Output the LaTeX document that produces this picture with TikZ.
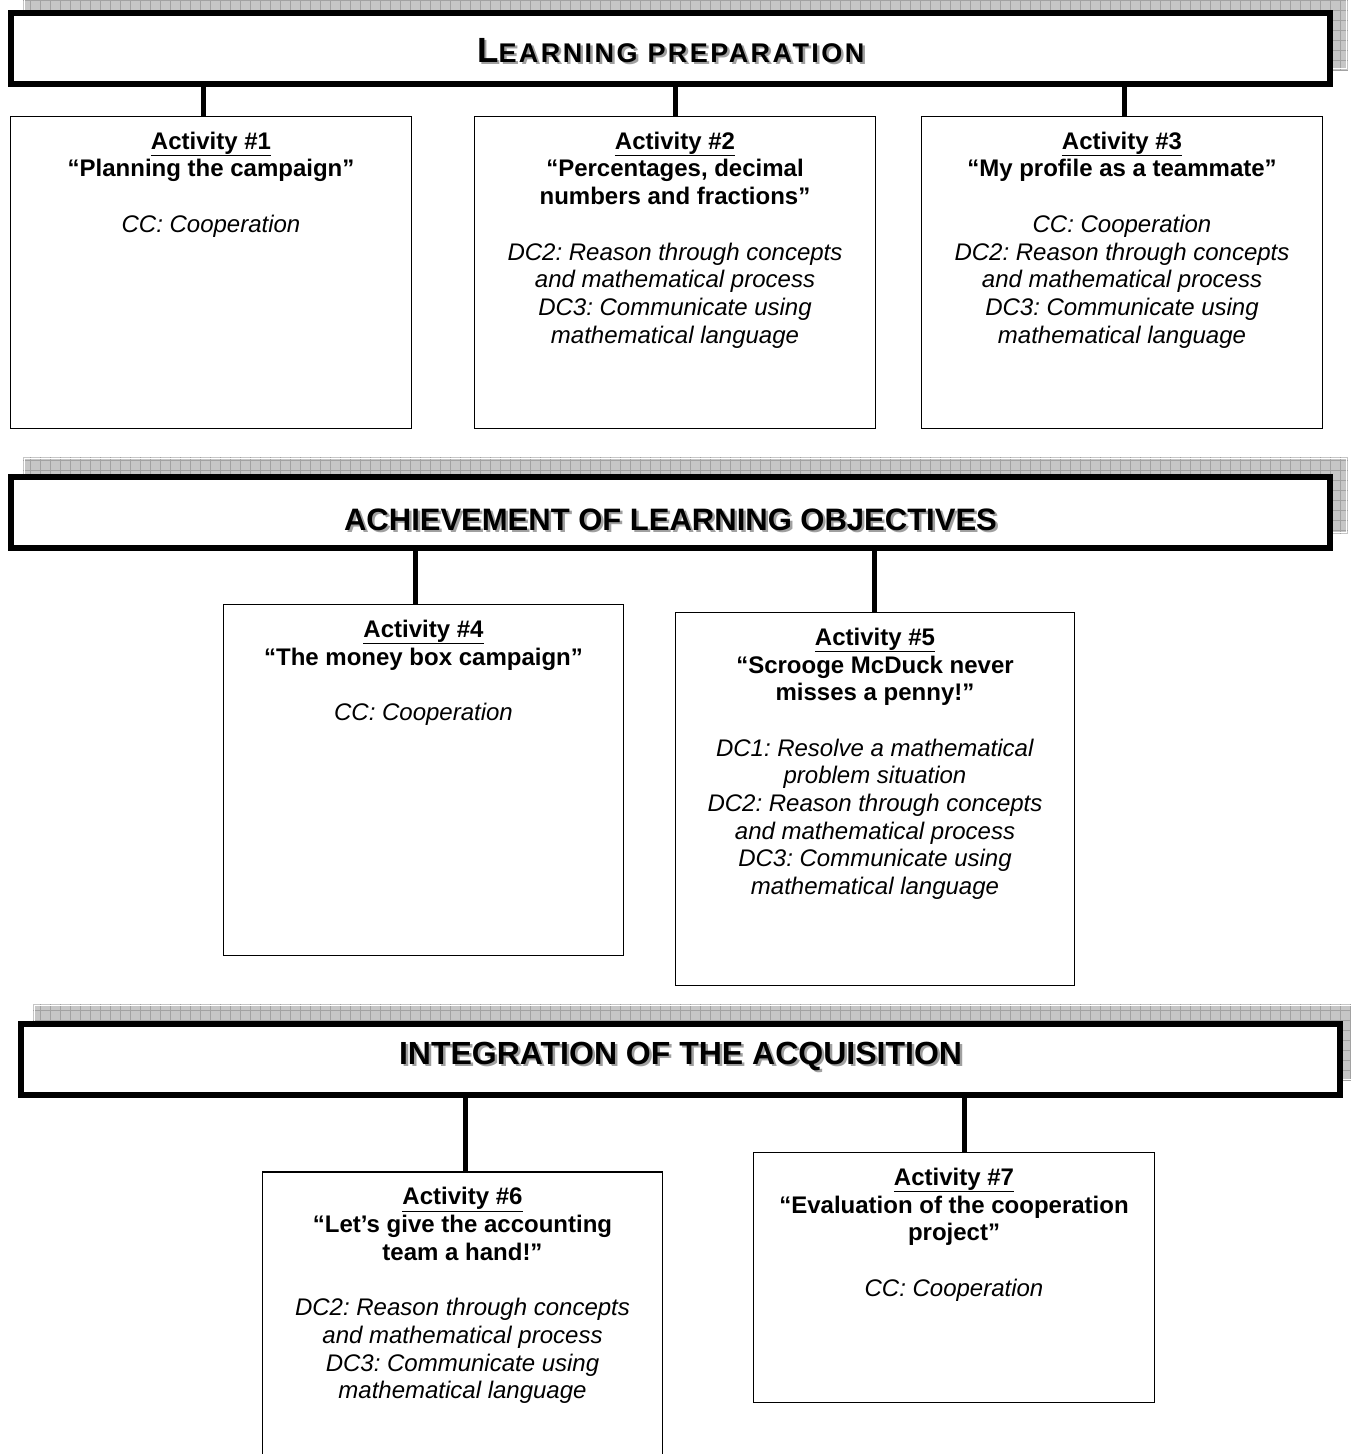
\documentclass[tikz,border=0pt]{standalone}
\usepackage{fontspec}
\setmainfont{Liberation Sans}
\usetikzlibrary{backgrounds}
\definecolor{shgray}{HTML}{C6C6C6}
\definecolor{shline}{HTML}{A2A2A2}
\definecolor{txtshadow}{HTML}{A0A0A0}
\newcommand\acttitle[1]{\textbf{\underline{#1}}}
\frenchspacing
\begin{document}
\begin{tikzpicture}[x=1pt,y=-1pt,
  banner/.style={draw, line width=6pt, fill=white, minimum width=1319pt, minimum height=71pt, inner sep=0pt},
  actbox/.style={draw, line width=1.6pt, fill=white, inner sep=0pt},
  conn/.style={line width=5pt},
  acttext/.style={anchor=north, align=center, font=\fontsize{24}{27.7}\selectfont, inner sep=0pt},
  hdr/.style={inner sep=0pt},
  hdrshadow/.style={inner sep=0pt, text=txtshadow}
]
\useasboundingbox (0,0) rectangle (1351,1454);
\clip (0,0) rectangle (1351,1454);

% ---------- banners ----------
\node[banner] (ban1) at (670.75,48.5) {};
\node[banner] (ban2) at (670.5,512) {};
\node[banner] (ban3) at (680.5,1059.5) {};

\begin{scope}[on background layer]
  \foreach \b in {ban1,ban2,ban3}{
    \fill[shgray] ([shift={(15,-17)}]\b.north west) rectangle ([shift={(15,-17)}]\b.south east);
    \draw[shline, line width=0.6pt, step=10pt] ([shift={(15,-17)}]\b.north west) grid ([shift={(15,-17)}]\b.south east);
    \draw[white, line width=1pt] ([shift={(16.5,-15.5)}]\b.north west) rectangle ([shift={(13.5,-18.5)}]\b.south east);
  }
\end{scope}

% header texts
\newcommand\hdrone{\bfseries\addfontfeature{LetterSpace=9}\fontsize{35}{37}\selectfont L\fontsize{27}{37}\selectfont EARNING PREPARATION}
\node[hdrshadow] at ([shift={(2.5,4)}]ban1.center) {\hdrone};
\node[hdr] (h1) at ([shift={(0,2)}]ban1.center) {\hdrone};

\newcommand\hdrtwo{\bfseries\fontsize{31}{33}\selectfont ACHIEVEMENT OF LEARNING OBJECTIVES}
\node[hdrshadow] at ([shift={(2.5,10)}]ban2.center) {\hdrtwo};
\node[hdr] (h2) at ([shift={(0,8)}]ban2.center) {\hdrtwo};

\newcommand\hdrthree{\bfseries\fontsize{32}{34}\selectfont INTEGRATION OF THE ACQUISITION}
\node[hdrshadow] at ([shift={(2.5,-1)}]ban3.center) {\hdrthree};
\node[hdr] (h3) at ([shift={(0,-3)}]ban3.center) {\hdrthree};

% ---------- activity boxes ----------
\node[actbox, minimum width=401pt, minimum height=312pt] (b1) at (211,272.5) {};
\node[actbox, minimum width=401pt, minimum height=312pt] (b2) at (675,272.5) {};
\node[actbox, minimum width=401pt, minimum height=312pt] (b3) at (1122,272.5) {};
\node[actbox, minimum width=400pt, minimum height=351pt] (b4) at (423.5,780) {};
\node[actbox, minimum width=399pt, minimum height=373pt] (b5) at (875,799) {};
\node[actbox, minimum width=400pt, minimum height=320pt] (b6) at (462.5,1332) {};
\node[actbox, minimum width=401pt, minimum height=250pt] (b7) at (954,1277.5) {};

% ---------- connectors ----------
\draw[conn] ([xshift=-8pt]b1.north) -- ([xshift=-8pt]b1.north |- ban1.south);
\draw[conn] (b2.north) -- (b2.north |- ban1.south);
\draw[conn] ([xshift=2pt]b3.north) -- ([xshift=2pt]b3.north |- ban1.south);
\draw[conn] ([xshift=-8.5pt]b4.north) -- ([xshift=-8.5pt]b4.north |- ban2.south);
\draw[conn] ([xshift=-1pt]b5.north) -- ([xshift=-1pt]b5.north |- ban2.south);
\draw[conn] ([xshift=2.5pt]b6.north) -- ([xshift=2.5pt]b6.north |- ban3.south);
\draw[conn] ([xshift=10pt]b7.north) -- ([xshift=10pt]b7.north |- ban3.south);

% ---------- box texts ----------
\node[acttext] (t1) at ([yshift=-16pt]b1.north) {\acttitle{Activity \#1}\\
  \textbf{“Planning the campaign”}\\[27.7pt]
  \textit{CC: Cooperation}};
\node[acttext] (t2) at ([yshift=-16pt]b2.north) {\acttitle{Activity \#2}\\
  \textbf{“Percentages, decimal}\\ \textbf{numbers and fractions”}\\[27.7pt]
  \textit{DC2: Reason through concepts}\\ \textit{and mathematical process}\\
  \textit{DC3: Communicate using}\\ \textit{mathematical language}};
\node[acttext] (t3) at ([yshift=-16pt]b3.north) {\acttitle{Activity \#3}\\
  \textbf{“My profile as a teammate”}\\[27.7pt]
  \textit{CC: Cooperation}\\
  \textit{DC2: Reason through concepts}\\ \textit{and mathematical process}\\
  \textit{DC3: Communicate using}\\ \textit{mathematical language}};
\node[acttext] (t4) at ([yshift=-16pt]b4.north) {\acttitle{Activity \#4}\\
  \textbf{“The money box campaign”}\\[27.7pt]
  \textit{CC: Cooperation}};
\node[acttext] (t5) at ([yshift=-16pt]b5.north) {\acttitle{Activity \#5}\\
  \textbf{“Scrooge McDuck never}\\ \textbf{misses a penny!”}\\[27.7pt]
  \textit{DC1: Resolve a mathematical}\\ \textit{problem situation}\\
  \textit{DC2: Reason through concepts}\\ \textit{and mathematical process}\\
  \textit{DC3: Communicate using}\\ \textit{mathematical language}};
\node[acttext] (t6) at ([yshift=-16pt]b6.north) {\acttitle{Activity \#6}\\
  \textbf{“Let’s give the accounting}\\ \textbf{team a hand!”}\\[27.7pt]
  \textit{DC2: Reason through concepts}\\ \textit{and mathematical process}\\
  \textit{DC3: Communicate using}\\ \textit{mathematical language}};
\node[acttext] (t7) at ([yshift=-16pt]b7.north) {\acttitle{Activity \#7}\\
  \textbf{“Evaluation of the cooperation}\\ \textbf{project”}\\[27.7pt]
  \textit{CC: Cooperation}};
\end{tikzpicture}
\end{document}
